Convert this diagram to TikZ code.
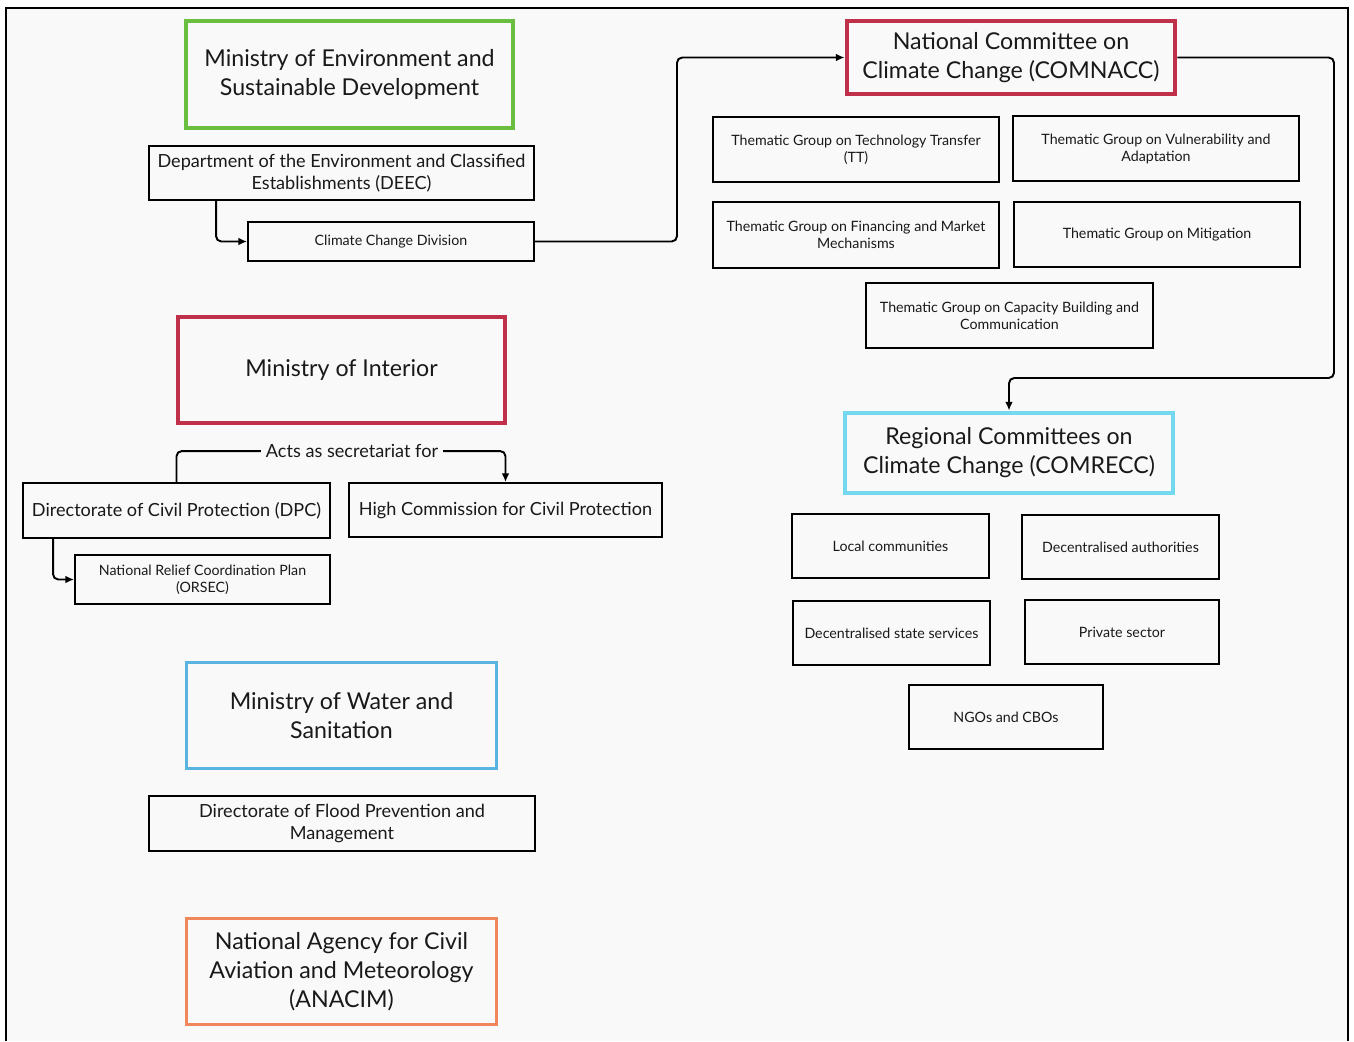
\documentclass[tikz,border=0pt]{standalone}
\usepackage{fontspec}
\setmainfont{Lato}
\usepackage{tikz}
\usetikzlibrary{arrows.meta}
\definecolor{envgreen}{RGB}{106,191,64}
\definecolor{minred}{RGB}{193,48,74}
\definecolor{regcyan}{RGB}{116,217,238}
\definecolor{watblue}{RGB}{90,180,224}
\definecolor{aviorange}{RGB}{240,135,90}
\definecolor{bggray}{RGB}{249,249,249}
\definecolor{ink}{RGB}{25,25,25}
\newcommand{\bigtxt}{\fontsize{13.2}{16.5}\selectfont}
\newcommand{\midtxt}{\fontsize{10.3}{12.5}\selectfont}
\newcommand{\smalltxt}{\fontsize{8.1}{9.7}\selectfont}

\begin{document}
\begin{tikzpicture}[>={Latex[length=5pt,width=4.5pt]}, x=0.02cm, y=-0.02cm,
    box/.style={draw=black, line width=1.1pt, fill=bggray, text=ink, align=center, inner sep=2pt},
    headbox/.style={box, draw=#1, line width=2.8pt, font=\bigtxt},
    thinhead/.style={box, draw=#1, line width=1.6pt, font=\bigtxt},
    midbox/.style={box, font=\midtxt},
    smallbox/.style={box, font=\smalltxt},
    wh/.style 2 args={minimum width=#1*0.02cm, minimum height=#2*0.02cm},
    conn/.style={draw=black, line width=1.1pt, rounded corners=3pt}]
    \useasboundingbox (0,0) rectangle (1354,1041);
    \fill[white] (0,0) rectangle (1354,1041);
    \fill[bggray] (6,8) rectangle (1348,1041);
    \draw[line width=1.2pt] (6,1041) -- (6,8) -- (1348,8) -- (1348,1041);

    % left column
    \node[headbox=envgreen, wh={327}{107}] (moe) at (349.5,74.5) {Ministry of Environment and\\Sustainable Development};
    \node[midbox, wh={385}{54}] (deec) at (341.5,173) {Department of the Environment and Classified\\Establishments (DEEC)};
    \node[smallbox, wh={286}{39}] (ccd) at (391,241.5) {Climate Change Division};
    \node[headbox=minred, wh={327}{106}] (moi) at (341.5,370) {Ministry of Interior};
    \node[midbox, wh={307}{55}] (dpc) at (176.5,510.5) {Directorate of Civil Protection (DPC)};
    \node[midbox, wh={313}{54}] (hccp) at (505.5,510) {High Commission for Civil Protection};
    \node[smallbox, wh={255}{49}] (orsec) at (202.5,579.5) {National Relief Coordination Plan\\(ORSEC)};
    \node[thinhead=watblue, wh={310}{106}] (mws) at (341.5,715.5) {Ministry of Water and\\Sanitation};
    \node[midbox, wh={386}{55}] (dfpm) at (342,823.5) {Directorate of Flood Prevention and\\Management};
    \node[thinhead=aviorange, wh={310}{106}] (anacim) at (341.5,971.5) {National Agency for Civil\\Aviation and Meteorology\\(ANACIM)};

    % right column
    \node[headbox=minred, wh={328}{73}] (comnacc) at (1011,57.5) {National Committee on\\Climate Change (COMNACC)};
    \node[smallbox, wh={286}{65}] (tt) at (856,149.5) {Thematic Group on Technology Transfer\\(TT)};
    \node[smallbox, wh={286}{65}] (va) at (1156,148.5) {Thematic Group on Vulnerability and\\Adaptation};
    \node[smallbox, wh={286}{66}] (fm) at (856,235) {Thematic Group on Financing and Market\\Mechanisms};
    \node[smallbox, wh={286}{65}] (mit) at (1157,234.5) {Thematic Group on Mitigation};
    \node[smallbox, wh={287}{65}] (cb) at (1009.5,315.5) {Thematic Group on Capacity Building and\\Communication};
    \node[headbox=regcyan, wh={328}{80}] (comrecc) at (1009,453) {Regional Committees on\\Climate Change (COMRECC)};
    \node[smallbox, wh={197}{64}] (loc) at (890.5,546) {Local communities};
    \node[smallbox, wh={197}{64}] (dauth) at (1120.5,547) {Decentralised authorities};
    \node[smallbox, wh={197}{64}] (dss) at (891.5,633) {Decentralised state services};
    \node[smallbox, wh={194}{64}] (priv) at (1122,632) {Private sector};
    \node[smallbox, wh={194}{64}] (ngo) at (1006,717) {NGOs and CBOs};

    % connectors
    \coordinate (turn) at (1334,378);
    \draw[conn,->] (deec.south west) ++(68,0) |- (ccd.west);
    \draw[conn,->] (ccd.east) -- ++(142,0) |- (comnacc.west);
    \draw[conn,->] (comnacc.east) -| (turn) -| (comrecc.north);
    \draw[conn,->] (dpc.north) -- ++(0,-31) -| (hccp.north);
    \node[fill=bggray, text=ink, font=\midtxt, inner sep=3pt] (secr) at (352,451) {Acts as secretariat for};
    \draw[conn,->] (dpc.south west) ++(31,0) |- (orsec.west);
\end{tikzpicture}
\end{document}
